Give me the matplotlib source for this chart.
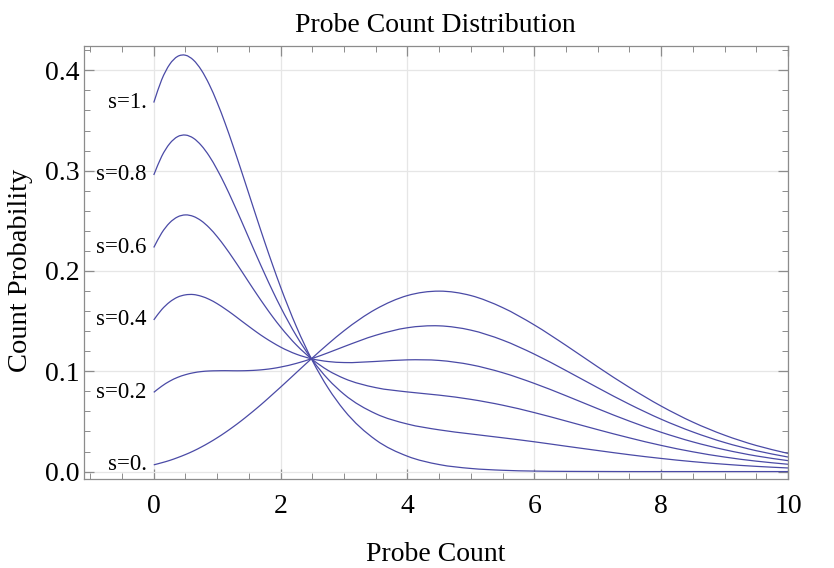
import numpy as np
import matplotlib.pyplot as plt
from matplotlib.ticker import MultipleLocator
from matplotlib.path import Path
from matplotlib.patches import PathPatch

# Probe count values (x) and count probability for each s curve
probe_count = [0, 0.125, 0.25, 0.375, 0.5, 0.625, 0.75, 0.875, 1, 1.125, 1.25, 1.375,
               1.5, 1.625, 1.75, 1.875, 2, 2.25, 2.5, 2.75, 3, 3.5, 4, 4.5, 5, 5.5,
               6, 6.5, 7, 7.5, 8, 8.5, 9, 9.5, 10]

prob_s00 = [0.0067, 0.0088, 0.0111, 0.0139, 0.0170, 0.0205, 0.0245, 0.0289, 0.0337, 0.0389,
            0.0445, 0.0504, 0.0567, 0.0632, 0.0700, 0.0771, 0.0842, 0.0988, 0.1133, 0.1273,
            0.1404, 0.1619, 0.1755, 0.1799, 0.1755, 0.1635, 0.1462, 0.1258, 0.1044, 0.0839,
            0.0653, 0.0493, 0.0363, 0.0260, 0.0181]
prob_s02 = [0.0790, 0.0851, 0.0901, 0.0939, 0.0966, 0.0985, 0.0997, 0.1003, 0.1005, 0.1006,
            0.1005, 0.1005, 0.1007, 0.1011, 0.1018, 0.1028, 0.1042, 0.1079, 0.1128, 0.1185,
            0.1246, 0.1359, 0.1434, 0.1453, 0.1410, 0.1311, 0.1171, 0.1007, 0.0836, 0.0671,
            0.0522, 0.0395, 0.0290, 0.0208, 0.0145]
prob_s04 = [0.1512, 0.1615, 0.1690, 0.1739, 0.1762, 0.1765, 0.1748, 0.1717, 0.1674, 0.1622,
            0.1566, 0.1506, 0.1447, 0.1389, 0.1335, 0.1286, 0.1241, 0.1170, 0.1123, 0.1097,
            0.1087, 0.1098, 0.1114, 0.1108, 0.1065, 0.0986, 0.0879, 0.0756, 0.0627, 0.0503,
            0.0392, 0.0296, 0.0218, 0.0156, 0.0109]
prob_s06 = [0.2234, 0.2379, 0.2480, 0.2539, 0.2559, 0.2544, 0.2500, 0.2431, 0.2342, 0.2239,
            0.2126, 0.2008, 0.1887, 0.1768, 0.1653, 0.1543, 0.1441, 0.1261, 0.1118, 0.1008,
            0.0929, 0.0837, 0.0794, 0.0762, 0.0720, 0.0662, 0.0588, 0.0504, 0.0418, 0.0336,
            0.0261, 0.0197, 0.0145, 0.0104, 0.0073]
prob_s08 = [0.2957, 0.3143, 0.3269, 0.3339, 0.3355, 0.3324, 0.3251, 0.3145, 0.3010, 0.2856,
            0.2686, 0.2509, 0.2327, 0.2146, 0.1970, 0.1800, 0.1640, 0.1352, 0.1112, 0.0920,
            0.0771, 0.0577, 0.0474, 0.0416, 0.0375, 0.0337, 0.0297, 0.0253, 0.0210, 0.0168,
            0.0131, 0.0099, 0.0073, 0.0052, 0.0036]
prob_s10 = [0.3679, 0.3907, 0.4059, 0.4139, 0.4151, 0.4103, 0.4003, 0.3859, 0.3679, 0.3473,
            0.3247, 0.3010, 0.2768, 0.2525, 0.2287, 0.2058, 0.1839, 0.1443, 0.1107, 0.0832,
            0.0613, 0.0316, 0.0153, 0.0070, 0.0031, 0.0013, 0.0005, 0.0002, 0.0001, 0.0000,
            0.0000, 0.0000, 0.0000, 0.0000, 0.0000]

curve_labels = ["s=0.", "s=0.2", "s=0.4", "s=0.6", "s=0.8", "s=1."]
curves = [prob_s00, prob_s02, prob_s04, prob_s06, prob_s08, prob_s10]


def smooth_path(xs, ys):
    # draw a smooth line through the read points (cubic Hermite segments)
    xs = np.asarray(xs, float)
    ys = np.asarray(ys, float)
    m = np.gradient(ys, xs)
    verts = [(xs[0], ys[0])]
    codes = [Path.MOVETO]
    for i in range(len(xs) - 1):
        h = xs[i + 1] - xs[i]
        verts += [(xs[i] + h / 3, ys[i] + m[i] * h / 3),
                  (xs[i + 1] - h / 3, ys[i + 1] - m[i + 1] * h / 3),
                  (xs[i + 1], ys[i + 1])]
        codes += [Path.CURVE4] * 3
    return Path(verts, codes)


plt.rcParams['font.family'] = ['Liberation Serif', 'DejaVu Serif']

fig = plt.figure(figsize=(8.34, 5.68), dpi=100)
ax = fig.add_axes([84 / 834, 1 - 479 / 568, (788 - 84) / 834, (479 - 46) / 568])

line_color = '#4a4aa6'
for ys, lab in zip(curves, curve_labels):
    ax.add_patch(PathPatch(smooth_path(probe_count, ys), fill=False,
                           edgecolor=line_color, lw=0.9))
    ax.annotate(lab, (probe_count[0], ys[0]), xytext=(-5, 0), textcoords='offset points',
                ha='right', va='center', fontsize=16.5)

ax.set_xlim(-1.1, 10)
ax.set_ylim(-0.0074, 0.4243)
ax.xaxis.set_minor_locator(MultipleLocator(0.5))
ax.yaxis.set_minor_locator(MultipleLocator(0.02))
ax.set_xticks([0, 2, 4, 6, 8, 10])
ax.set_yticks([0.0, 0.1, 0.2, 0.3, 0.4])
ax.set_yticklabels(["0.0", "0.1", "0.2", "0.3", "0.4"])

ax.grid(True, which='major', color='#e6e6e6', lw=0.9)
ax.set_axisbelow(True)
for sp in ax.spines.values():
    sp.set_color('#8c8c8c')
    sp.set_linewidth(0.9)
ax.tick_params(which='both', direction='in', top=True, right=True, color='#8c8c8c')
ax.tick_params(which='major', length=7, width=0.9, labelsize=20)
ax.tick_params(which='minor', length=4, width=0.7)
ax.tick_params(axis='x', pad=11)
ax.tick_params(axis='y', pad=3)

fig.text(436 / 834, 1 - 561 / 568, "Probe Count", ha='center', va='baseline', fontsize=20)
fig.text(21 / 834, 1 - 270 / 568, "Count Probability", ha='center', va='center',
         rotation=90, fontsize=20.5)
fig.text(435 / 834, 1 - 32 / 568, "Probe Count Distribution", ha='center', va='baseline',
         fontsize=20)

fig.savefig("out.png", dpi=100)
